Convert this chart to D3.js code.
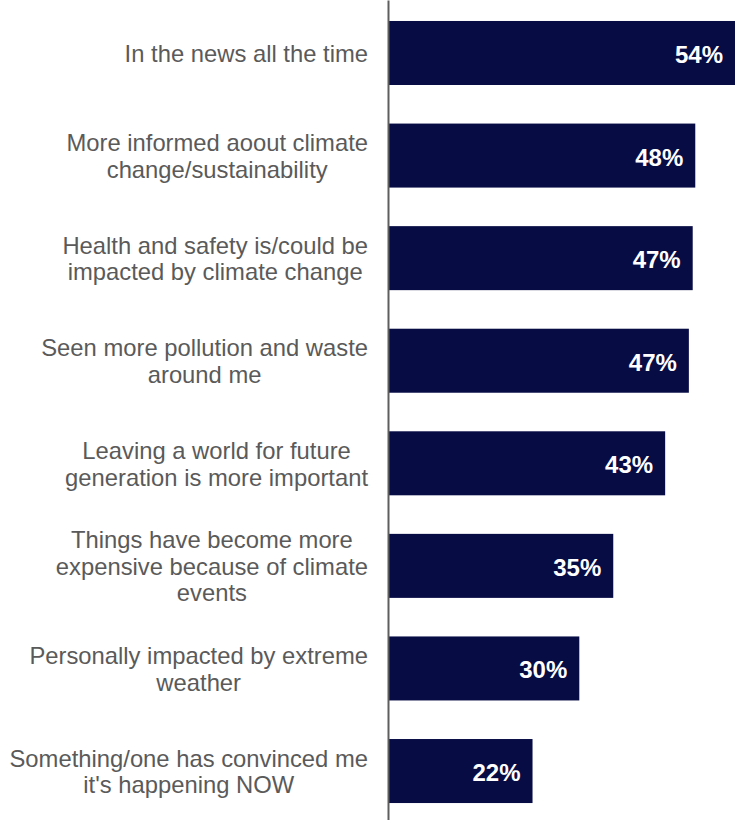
<!DOCTYPE html>
<html>
<head>
<meta charset="utf-8">
<script src="https://cdn.jsdelivr.net/npm/d3@7"></script>
<style>
  body { margin: 0; background: #fff; }
  svg { display: block; }
</style>
</head>
<body>
<svg width="741" height="820"></svg>
<script>
// categories, top to bottom ("\n" = line break as in the original)
const categories = [
  "In the news all the time",
  "More informed aoout climate\nchange/sustainability",
  "Health and safety is/could be\nimpacted by climate change",
  "Seen more pollution and waste\naround me",
  "Leaving a world for future\ngeneration is more important",
  "Things have become more\nexpensive because of climate\nevents",
  "Personally impacted by extreme\nweather",
  "Something/one has convinced me\nit's happening NOW"
];
// share of respondents (%)
const values = [54.0, 47.8, 47.4, 46.8, 43.1, 35.0, 29.7, 22.4];

function drawChart() {
  const svg = d3.select("svg");
  svg.selectAll("*").remove();

  const attr_area = {
    width: parseFloat(svg.attr("width")),
    height: parseFloat(svg.attr("height")),
    axisX: 388,
    barEnd: 735,
    labelRight: 368
  };

  const data = categories.map((c, i) => ({ label: c, value: values[i] }));

  const scaleY = d3.scaleBand()
    .domain(categories)
    .range([0, attr_area.height])
    .paddingInner(0.376)
    .paddingOuter(0.185)
    .align(0.553);

  const scaleX = d3.scaleLinear()
    .domain([0, d3.max(values)])
    .range([attr_area.axisX + 1, attr_area.barEnd]);

  // bars
  svg.selectAll(".bar")
    .data(data)
    .enter()
    .append("rect")
    .attr("class", "bar")
    .attr("x", scaleX(0))
    .attr("y", d => scaleY(d.label))
    .attr("width", d => scaleX(d.value) - scaleX(0))
    .attr("height", scaleY.bandwidth())
    .style("fill", "#070c45");

  // value labels
  svg.selectAll(".val")
    .data(data)
    .enter()
    .append("text")
    .attr("class", "val")
    .attr("x", d => scaleX(d.value) - 12)
    .attr("y", d => scaleY(d.label) + scaleY.bandwidth() / 2 + 10)
    .attr("text-anchor", "end")
    .style("font-family", "'Liberation Sans', Arial, sans-serif")
    .style("font-weight", "bold")
    .style("font-size", "24px")
    .style("fill", "#ffffff")
    .text(d => Math.round(d.value) + "%");

  // vertical axis line
  const axisY = d3.axisLeft(scaleY).tickSize(0).tickSizeOuter(0).tickFormat("");
  const gAxis = svg.append("g")
    .attr("transform", `translate(${attr_area.axisX}, 0)`)
    .call(axisY);
  gAxis.select(".domain")
    .attr("stroke", "#5e5e5e")
    .attr("stroke-width", 2);

  // category labels: block right-aligned, lines centred in the block
  const lineH = 26.5;
  data.forEach(d => {
    const lines = d.label.split("\n");
    const center = scaleY(d.label) + scaleY.bandwidth() / 2;
    const firstBase = center + 9 - (lines.length - 1) * lineH / 2;
    const g = svg.append("g").attr("class", "cat");
    const texts = lines.map((ln, i) =>
      g.append("text")
        .attr("y", firstBase + i * lineH)
        .attr("text-anchor", "middle")
        .style("font-family", "'Liberation Sans', Arial, sans-serif")
        .style("font-size", "23.8px")
        .style("fill", "#5a5a5a")
        .text(ln));
    const maxW = d3.max(texts, t => t.node().getComputedTextLength());
    texts.forEach(t => t.attr("x", attr_area.labelRight - maxW / 2));
  });
}

drawChart();
</script>
</body>
</html>
